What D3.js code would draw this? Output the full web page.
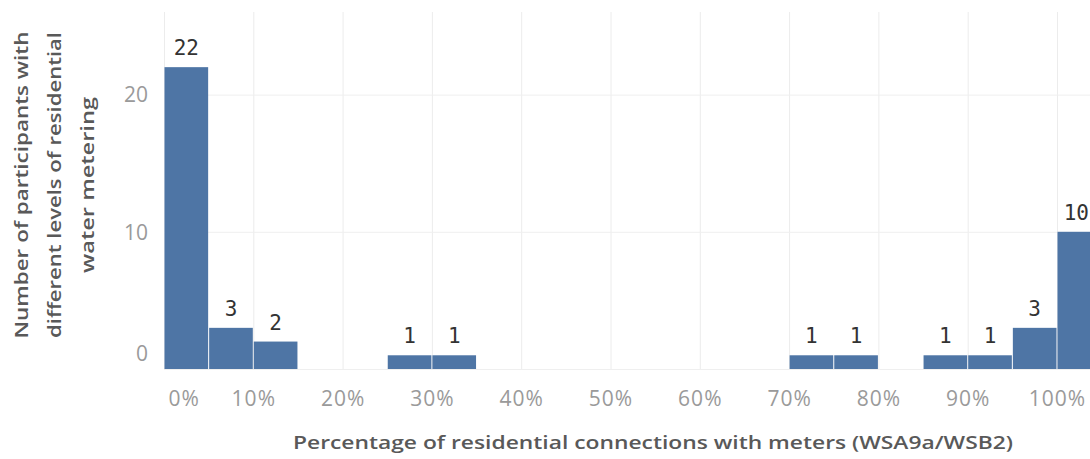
<!DOCTYPE html>
<html>
<head>
<meta charset="utf-8">
<script src="https://cdn.jsdelivr.net/npm/d3@7"></script>
<style>
html,body{margin:0;padding:0;background:#fff;overflow:hidden;}
svg{display:block;}
</style>
</head>
<body>
<svg id="chart" width="1090" height="459"></svg>
<script>
// Data
const binStarts = [0, 5, 10, 25, 30, 70, 75, 85, 90, 95, 100];
const counts    = [22, 3, 2, 1, 1, 1, 1, 1, 1, 3, 10];
const binWidth = 5;
const xTicks = [0, 10, 20, 30, 40, 50, 60, 70, 80, 90, 100];
const xTickLabels = ["0%", "10%", "20%", "30%", "40%", "50%", "60%", "70%", "80%", "90%", "100%"];
const yTicks = [0, 10, 20];
const yTitleLines = ["Number of participants with", "different levels of residential", "water metering"];
const yTitleLengths = [307, 306, 176];
const xTitle = "Percentage of residential connections with meters (WSA9a/WSB2)";

const svg = d3.select("#chart");
const W = 1090, H = 459;
const paneLeft = 164, paneRight = 1090, paneTop = 12, paneBottom = 369;

const x = d3.scaleLinear().domain([0, 100]).range([paneLeft, 1057]);
const y = d3.scaleLinear().domain([0, 26]).range([paneBottom, paneBottom - 26 * 13.72]);

const data = binStarts.map((s, i) => ({start: s, count: counts[i]}));

// Vertical gridlines
svg.append("g")
  .attr("transform", `translate(0,${paneBottom})`)
  .call(d3.axisBottom(x).tickValues(xTicks).tickSize(-(paneBottom - paneTop)).tickFormat(""))
  .call(g => g.select(".domain").remove())
  .call(g => g.selectAll("line").attr("stroke", "#ececec").attr("stroke-width", 1));

// Horizontal gridlines
svg.append("g")
  .attr("transform", `translate(${paneLeft},0)`)
  .call(d3.axisLeft(y).tickValues(yTicks).tickSize(-(paneRight - paneLeft)).tickFormat(""))
  .call(g => g.select(".domain").remove())
  .call(g => g.selectAll("line").attr("stroke", "#efefef").attr("stroke-width", 1));

// Bars
svg.append("g").selectAll("rect").data(data).join("rect")
  .attr("x", d => x(d.start) + 0.5)
  .attr("width", d => x(d.start + binWidth) - x(d.start) - 1)
  .attr("y", d => y(d.count))
  .attr("height", d => y(0) - y(d.count))
  .attr("fill", "#4e75a5");

// Bar labels (kept inside the pane, as the original does)
svg.append("g").selectAll("text").data(data).join("text")
  .attr("x", d => (x(d.start) + x(d.start + binWidth)) / 2)
  .attr("y", d => y(d.count) - 12)
  .attr("text-anchor", "middle")
  .attr("font-family", "'DejaVu Sans Mono', monospace")
  .attr("font-size", 21)
  .attr("fill", "#333")
  .text(d => d.count)
  .each(function() {
    const bb = this.getBBox();
    if (bb.x + bb.width > W - 1) {
      d3.select(this).attr("text-anchor", "end").attr("x", W - 1);
    }
  });

// X axis labels
const xAxis = svg.append("g")
  .attr("transform", `translate(0,${paneBottom})`)
  .call(d3.axisBottom(x).tickValues(xTicks).tickSize(0).tickPadding(0)
        .tickFormat((d, i) => xTickLabels[i]));
xAxis.select(".domain").remove();
xAxis.selectAll("text")
  .attr("font-family", "'Open Sans', sans-serif")
  .attr("font-size", 21)
  .attr("letter-spacing", 1)
  .attr("fill", "#9a9a9a")
  .attr("dy", null)
  .attr("y", 37)
  .each(function(d) {
    if (d === 0) d3.select(this).attr("text-anchor", "start").attr("x", 4);
  });

// Y axis labels
const yAxis = svg.append("g")
  .attr("transform", `translate(148,0)`)
  .call(d3.axisLeft(y).tickValues(yTicks).tickSize(0).tickPadding(0));
yAxis.select(".domain").remove();
yAxis.selectAll("text")
  .attr("font-family", "'Open Sans', sans-serif")
  .attr("font-size", 21)
  .attr("fill", "#9a9a9a")
  .attr("x", 0)
  .attr("dy", d => d === 0 ? "-0.42em" : "0.35em");

// Y title
const yt = svg.append("text")
  .attr("transform", "translate(0,185) rotate(-90)")
  .attr("text-anchor", "middle")
  .attr("font-family", "'Open Sans', sans-serif")
  .attr("font-size", 18)
  .attr("font-weight", 600)
  .attr("fill", "#595959");
yTitleLines.forEach((l, i) => {
  yt.append("tspan").attr("x", 0).attr("y", 28 + i * 33)
    .attr("textLength", yTitleLengths[i]).attr("lengthAdjust", "spacingAndGlyphs")
    .text(l);
});

// X title
svg.append("text")
  .attr("x", 653)
  .attr("y", 449)
  .attr("text-anchor", "middle")
  .attr("font-family", "'Open Sans', sans-serif")
  .attr("font-size", 18)
  .attr("font-weight", 600)
  .attr("fill", "#595959")
  .attr("textLength", 720)
  .attr("lengthAdjust", "spacingAndGlyphs")
  .text(xTitle);
</script>
</body>
</html>
